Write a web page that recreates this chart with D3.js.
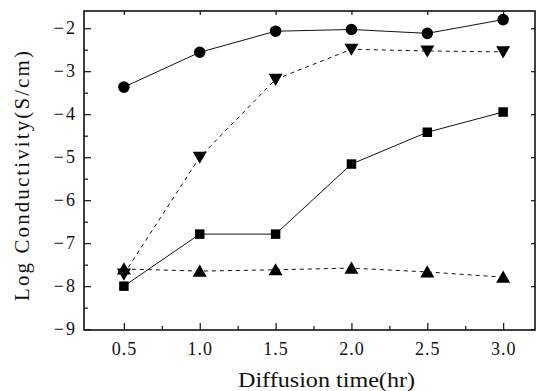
<!DOCTYPE html>
<html><head><meta charset="utf-8">
<script src="https://cdn.jsdelivr.net/npm/d3@7"></script>
<style>body{margin:0;background:#fff}svg text{font-family:"Liberation Serif","DejaVu Serif",serif;fill:#111}</style>
</head><body><svg id="c" width="543" height="391"></svg>
<script>
const times = [0.5, 1.0, 1.5, 2.0, 2.5, 3.0];
const circleVals = [-3.37, -2.56, -2.07, -2.03, -2.12, -1.8];
const downTriVals = [-7.72, -5.0, -3.19, -2.49, -2.53, -2.55];
const squareVals = [-8.0, -6.79, -6.79, -5.16, -4.42, -3.95];
const upTriVals = [-7.6, -7.65, -7.62, -7.58, -7.67, -7.79];
const xTicks = [0.5, 1.0, 1.5, 2.0, 2.5, 3.0];
const yTicks = [-2, -3, -4, -5, -6, -7, -8, -9];

const svg = d3.select("#c");
const L = 84, R = 535, T = 11, B = 330;
const x = d3.scaleLinear().domain([0.237, 3.21]).range([L, R]);
const y = d3.scaleLinear().domain([-9.02, -1.6]).range([B, T]);

// frame
svg.append("rect").attr("x", L).attr("y", T).attr("width", R - L).attr("height", B - T)
  .attr("fill", "none").attr("stroke", "#111").attr("stroke-width", 1.6);

// bottom axis (ticks inward)
const xMinor = d3.range(0.5, 3.01, 0.25);
const gx = svg.append("g").attr("transform", `translate(0,${B})`)
  .call(d3.axisBottom(x).tickValues(xTicks).tickSize(-7).tickPadding(12).tickFormat(d3.format(".1f")));
gx.select(".domain").remove();
gx.selectAll("text").attr("font-size", 18).attr("letter-spacing", 1);
svg.append("g").attr("transform", `translate(0,${B})`)
  .call(d3.axisBottom(x).tickValues(xMinor.filter(v => !xTicks.includes(v))).tickSize(-4).tickFormat(""))
  .select(".domain").remove();
// top mirrored ticks
svg.append("g").attr("transform", `translate(0,${T})`)
  .call(d3.axisTop(x).tickValues(xTicks).tickSize(-4).tickFormat(""))
  .select(".domain").remove();

// left axis
const yMinor = d3.range(-8.5, -1.9, 1);
const gy = svg.append("g").attr("transform", `translate(${L},0)`)
  .call(d3.axisLeft(y).tickValues(yTicks).tickSize(-7).tickPadding(7).tickFormat(d => "\u2212" + Math.abs(d)));
gy.select(".domain").remove();
gy.selectAll("text").attr("font-size", 18).attr("letter-spacing", 2);
svg.append("g").attr("transform", `translate(${L},0)`)
  .call(d3.axisLeft(y).tickValues(yMinor).tickSize(-4).tickFormat(""))
  .select(".domain").remove();
svg.append("g").attr("transform", `translate(${R},0)`)
  .call(d3.axisRight(y).tickValues(yTicks).tickSize(-4).tickFormat(""))
  .select(".domain").remove();
svg.selectAll(".tick line").attr("stroke", "#111").attr("stroke-width", 1.2);

// axis titles
svg.append("text").attr("x", 238).attr("y", 387)
  .attr("font-size", 21).attr("textLength", 177).attr("lengthAdjust", "spacingAndGlyphs")
  .text("Diffusion time(hr)");
svg.append("text").attr("transform", "translate(29,301) rotate(-90)")
  .attr("font-size", 21).attr("textLength", 250).attr("lengthAdjust", "spacing")
  .text("Log Conductivity(S/cm)");

const series = [
  {vals: circleVals, dash: null, sym: d3.symbolCircle, size: 105, rot: 0},
  {vals: downTriVals, dash: "4,4", sym: d3.symbolTriangle, size: 85, rot: 180},
  {vals: squareVals, dash: null, sym: d3.symbolSquare, size: 90, rot: 0},
  {vals: upTriVals, dash: "4,4", sym: d3.symbolTriangle, size: 85, rot: 0}
];
const line = d3.line().x((d, i) => x(times[i])).y(d => y(d));
series.forEach(s => {
  svg.append("path").attr("d", line(s.vals)).attr("fill", "none").attr("stroke", "#111")
    .attr("stroke-width", 1).attr("stroke-dasharray", s.dash);
  svg.append("g").selectAll("path").data(s.vals).join("path")
    .attr("d", d3.symbol().type(s.sym).size(s.size))
    .attr("transform", (d, i) => `translate(${x(times[i])},${y(d) + (s.sym === d3.symbolTriangle ? (s.rot ? -1.5 : 1.5) : 0)}) rotate(${s.rot})`)
    .attr("fill", "#000");
});
</script></body></html>
